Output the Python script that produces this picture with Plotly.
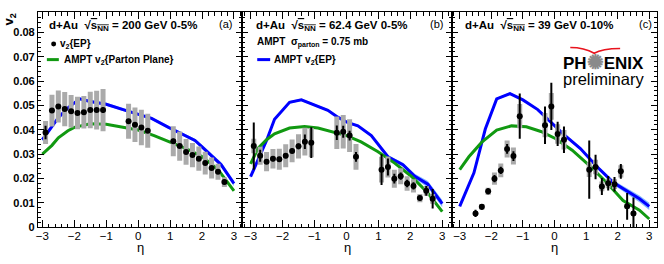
import plotly.graph_objects as go

W, H = 664, 264

# ---------------- data: panel (a) 200 GeV ----------------
eta_a = [-2.9, -2.7, -2.5, -2.3, -2.1, -1.9, -1.7, -1.5, -1.3, -1.1,
         -0.3, -0.1, 0.1, 0.3,
         1.1, 1.3, 1.5, 1.7, 1.9, 2.1, 2.3, 2.5, 2.7]
v2_a = [0.0389, 0.0479, 0.0496, 0.0485, 0.0476, 0.0469, 0.0472, 0.0481, 0.0481, 0.0481,
        0.0435, 0.0421, 0.0409, 0.0396,
        0.0353, 0.0333, 0.0309, 0.0296, 0.0281, 0.0263, 0.0243, 0.0227, 0.0185]
stat_a = [0.0028, 0.0008, 0.0008, 0.0008, 0.0008, 0.0008, 0.0008, 0.0008, 0.0008, 0.0012,
          0.0008, 0.0008, 0.0008, 0.0008,
          0.0010, 0.0008, 0.0008, 0.0008, 0.0008, 0.0008, 0.0008, 0.0008, 0.0010]
sys_a = [0.0047, 0.0065, 0.0066, 0.0070, 0.0067, 0.0067, 0.0067, 0.0075, 0.0080, 0.0087,
         0.0072, 0.0071, 0.0073, 0.0070,
         0.0062, 0.0060, 0.0053, 0.0050, 0.0050, 0.0047, 0.0043, 0.0033, 0.0020]
ep_eta_a = [-3.0, -2.71, -2.5, -2.2, -1.83, -1.5, -1.0, -0.3, 0.42, 0.95, 1.36, 1.78, 2.0, 2.4, 2.6, 3.0]
ep_v2_a = [0.0359, 0.0412, 0.0450, 0.0490, 0.0527, 0.0516, 0.0505, 0.0476, 0.0447, 0.0410,
           0.0385, 0.0356, 0.0330, 0.0283, 0.0256, 0.0179]
ep_err_a = [0.0006, 0.0006, 0.0006, 0.0006, 0.0006, 0.0006, 0.0006, 0.0006, 0.0006, 0.0006,
            0.0006, 0.0007, 0.0008, 0.0009, 0.0010, 0.0011]
pp_eta_a = [-3.0, -2.7, -2.5, -2.2, -2.0, -1.5, -1.0, -0.5, 0.0, 0.5, 1.0, 1.5, 2.0, 2.5, 3.0]
pp_v2_a = [0.0300, 0.0336, 0.0367, 0.0396, 0.0410, 0.0425, 0.0423, 0.0412, 0.0399, 0.0376,
           0.0350, 0.0323, 0.0290, 0.0236, 0.0149]

# ---------------- data: panel (b) 62.4 GeV ----------------
eta_b = [-2.9, -2.7, -2.5, -2.3, -2.1, -1.9, -1.7, -1.5, -1.3, -1.1,
         -0.3, -0.1, 0.1, 0.3,
         1.1, 1.3, 1.5, 1.7, 1.9, 2.1, 2.3, 2.5, 2.7]
v2_b = [0.0333, 0.0293, 0.0269, 0.0281, 0.0279, 0.0293, 0.0313, 0.0332, 0.0351, 0.0347,
        0.0388, 0.0392, 0.0376, 0.0289,
        0.0236, 0.0247, 0.0199, 0.0209, 0.0179, 0.0169, 0.0119, 0.0149, 0.0116]
stat_b = [0.0097, 0.0025, 0.0010, 0.0010, 0.0010, 0.0010, 0.0010, 0.0012, 0.0030, 0.0063,
          0.0030, 0.0025, 0.0020, 0.0020,
          0.0063, 0.0035, 0.0020, 0.0015, 0.0015, 0.0015, 0.0010, 0.0020, 0.0040]
sys_b = [0.0030, 0.0037, 0.0040, 0.0040, 0.0043, 0.0047, 0.0047, 0.0050, 0.0057, 0.0060,
         0.0067, 0.0069, 0.0067, 0.0053,
         0.0053, 0.0043, 0.0037, 0.0033, 0.0030, 0.0027, 0.0017, 0.0020, 0.0020]
ep_eta_b = [-3.0, -2.77, -2.5, -2.25, -1.78, -1.41, -1.0, -0.58, -0.27, 0.05, 0.36, 0.78,
            1.3, 1.77, 2.14, 2.55, 3.0]
ep_v2_b = [0.0207, 0.0276, 0.0356, 0.0443, 0.0513, 0.0523, 0.0503, 0.0480, 0.0452, 0.0429,
           0.0416, 0.0376, 0.0289, 0.0256, 0.0209, 0.0176, 0.0096]
ep_err_b = [0.0005, 0.0005, 0.0005, 0.0005, 0.0005, 0.0005, 0.0005, 0.0005, 0.0005, 0.0005,
            0.0005, 0.0006, 0.0007, 0.0008, 0.0010, 0.0013, 0.0015]
pp_eta_b = [-3.0, -2.77, -2.5, -2.25, -1.78, -1.31, -0.89, -0.47, 0.0, 0.46, 0.99, 1.51,
            2.03, 2.55, 3.0]
pp_v2_b = [0.0260, 0.0323, 0.0359, 0.0383, 0.0407, 0.0413, 0.0407, 0.0392, 0.0376, 0.0350,
           0.0310, 0.0263, 0.0209, 0.0140, 0.0063]

# ---------------- data: panel (c) 39 GeV ----------------
eta_c = [-2.5, -2.3, -2.1, -1.9, -1.7, -1.5, -1.3, -1.1,
         -0.3, -0.1, 0.1, 0.3,
         1.1, 1.3, 1.5, 1.7, 1.9, 2.1, 2.3, 2.5]
v2_c = [0.0056, 0.0083, 0.0147, 0.0199, 0.0233, 0.0321, 0.0292, 0.0456,
        0.0419, 0.0496, 0.0383, 0.0359,
        0.0236, 0.0247, 0.0167, 0.0180, 0.0176, 0.0229, 0.0085, 0.0056]
stat_c = [0.0015, 0.0012, 0.0012, 0.0015, 0.0015, 0.0020, 0.0020, 0.0093,
          0.0077, 0.0097, 0.0050, 0.0055,
          0.0120, 0.0050, 0.0035, 0.0030, 0.0030, 0.0030, 0.0055, 0.0065]
sys_c = [0.0010, 0.0012, 0.0015, 0.0025, 0.0028, 0.0035, 0.0035, 0.0050,
         0.0050, 0.0055, 0.0040, 0.0040,
         0.0030, 0.0030, 0.0020, 0.0020, 0.0020, 0.0025, 0.0010, 0.0010]
ep_eta_c = [-3.0, -2.55, -2.19, -1.83, -1.41, -1.0, -0.53, -0.11, 0.3, 0.82, 1.34, 1.86,
            2.27, 2.69, 3.0]
ep_v2_c = [0.0085, 0.0223, 0.0403, 0.0527, 0.0549, 0.0523, 0.0483, 0.0429, 0.0380, 0.0323,
           0.0249, 0.0183, 0.0149, 0.0116, 0.0085]
ep_err_c = [0.0005, 0.0005, 0.0005, 0.0005, 0.0005, 0.0005, 0.0005, 0.0005, 0.0005, 0.0006,
            0.0007, 0.0009, 0.0012, 0.0014, 0.0015]
pp_eta_c = [-3.0, -2.71, -2.3, -1.83, -1.36, -0.89, -0.43, 0.04, 0.56, 1.08, 1.65, 2.17,
            2.69, 3.0]
pp_v2_c = [0.0236, 0.0289, 0.0349, 0.0399, 0.0416, 0.0412, 0.0393, 0.0363, 0.0316, 0.0256,
           0.0183, 0.0109, 0.0069, 0.0033]

panel_titles = ["200 GeV 0-5%", "62.4 GeV 0-5%", "39 GeV 0-10%"]
panel_tags = ["(a)", "(b)", "(c)"]
x_ticks = [-3, -2, -1, 0, 1, 2, 3]

# ---------------- styling ----------------
BLUE = "#0000ff"
GREEN = "#119911"
GRAY = "#aaaaaa"
BAND = "rgba(90,160,255,0.75)"
FONT = "Liberation Sans, Arial, sans-serif"

left_px = [36, 241, 451.5]
right_px = [241, 451.5, 656.5]
x_ranges = [[-3.14, 3.26], [-3.26, 3.31], [-3.24, 3.23]]
y_range = [0, 0.0884]
y_top_px, y_bot_px = 12.4, 232.3


def px(x):
    return x / W


def py(y):
    return 1 - y / H


fig = go.Figure()

panels = [
    (eta_a, v2_a, stat_a, sys_a, ep_eta_a, ep_v2_a, ep_err_a, pp_eta_a, pp_v2_a),
    (eta_b, v2_b, stat_b, sys_b, ep_eta_b, ep_v2_b, ep_err_b, pp_eta_b, pp_v2_b),
    (eta_c, v2_c, stat_c, sys_c, ep_eta_c, ep_v2_c, ep_err_c, pp_eta_c, pp_v2_c),
]

for i, (eta, v2, st, sy, ee, ev, eerr, pe, pv) in enumerate(panels):
    xa = "x" if i == 0 else f"x{i+1}"
    ya = "y" if i == 0 else f"y{i+1}"
    up = [v + e for v, e in zip(ev, eerr)]
    lo = [v - e for v, e in zip(ev, eerr)]
    fig.add_trace(go.Scatter(x=ee + ee[::-1], y=up + lo[::-1], fill="toself",
                             fillcolor=BAND, line=dict(width=0), mode="lines",
                             hoverinfo="skip", showlegend=False, xaxis=xa, yaxis=ya))
    fig.add_trace(go.Scatter(x=ee, y=ev, mode="lines", line=dict(color=BLUE, width=3),
                             showlegend=False, xaxis=xa, yaxis=ya))
    fig.add_trace(go.Scatter(x=pe, y=pv, mode="lines", line=dict(color=GREEN, width=3),
                             showlegend=False, xaxis=xa, yaxis=ya))
    fig.add_trace(go.Scatter(x=eta, y=v2, mode="markers", marker=dict(size=1, opacity=0),
                             error_y=dict(type="data", array=sy, color=GRAY, thickness=5,
                                          width=0),
                             showlegend=False, xaxis=xa, yaxis=ya))
    fig.add_trace(go.Scatter(x=eta, y=v2, mode="markers",
                             marker=dict(color="black", size=6),
                             error_y=dict(type="data", array=st, color="black",
                                          thickness=2, width=0),
                             showlegend=False, xaxis=xa, yaxis=ya))

    xkey = "xaxis" if i == 0 else f"xaxis{i+1}"
    ykey = "yaxis" if i == 0 else f"yaxis{i+1}"
    fig.layout[xkey] = dict(
        domain=[px(left_px[i]), px(right_px[i])], range=x_ranges[i], anchor=ya,
        showline=True, linecolor="black", linewidth=1, mirror="ticks",
        ticks="inside", ticklen=7, tickcolor="black", tickvals=x_ticks,
        ticktext=[("\u2212" + str(-t)) if t < 0 else str(t) for t in x_ticks],
        minor=dict(ticks="inside", dtick=0.2, tick0=0, ticklen=3.5, tickcolor="black"),
        tickfont=dict(family=FONT, size=11.5, color="black"),
        ticklabelstandoff=-2,
        showgrid=False, zeroline=False, fixedrange=True,
    )
    fig.layout[ykey] = dict(
        domain=[py(y_bot_px), py(y_top_px)], range=y_range, anchor=xa,
        showline=True, linecolor="black", linewidth=1, mirror="ticks",
        ticks="inside", ticklen=6, tickcolor="black", dtick=0.01, tick0=0,
        minor=dict(ticks="inside", dtick=0.002, tick0=0, ticklen=3, tickcolor="black"),
        showticklabels=(i == 0),
        tickfont=dict(family=FONT, size=11, color="black", weight="bold"),
        showgrid=False, zeroline=False, fixedrange=True,
    )

annotations = []
header_x = [45.5, 253, 462.5]
tag_x = [224, 436, 645]
for i in range(3):
    annotations.append(dict(
        x=px(header_x[i]), y=py(26.5), xref="paper", yref="paper",
        xanchor="left", yanchor="middle", showarrow=False,
        text=("<b>d+Au  \u221a<span style='text-decoration:overline'>s<sub>NN</sub></span>"
              " = " + panel_titles[i] + "</b>"),
        font=dict(family=FONT, size=11.5, color="black")))
    annotations.append(dict(
        x=px(tag_x[i]), y=py(25), xref="paper", yref="paper",
        xanchor="center", yanchor="middle", showarrow=False,
        text=panel_tags[i], font=dict(family=FONT, size=11, color="black")))
    cx = (left_px[i] + right_px[i]) / 2
    annotations.append(dict(
        x=px(cx), y=py(253), xref="paper", yref="paper",
        xanchor="center", yanchor="middle", showarrow=False,
        text="\u03b7", font=dict(family=FONT, size=13, color="black")))

annotations.append(dict(x=px(8), y=py(20), xref="paper", yref="paper",
                        xanchor="center", yanchor="middle", showarrow=False, textangle=-90,
                        text="<b>v<sub>2</sub></b>", font=dict(family=FONT, size=13, color="black")))
annotations.append(dict(x=px(56), y=py(45), xref="paper", yref="paper",
                        xanchor="left", yanchor="middle", showarrow=False,
                        text="<b>v<sub>2</sub>{EP}</b>", font=dict(family=FONT, size=10, color="black")))
annotations.append(dict(x=px(60), y=py(61), xref="paper", yref="paper",
                        xanchor="left", yanchor="middle", showarrow=False,
                        text="<b>AMPT v<sub>2</sub>{Parton Plane}</b>",
                        font=dict(family=FONT, size=10, color="black")))
annotations.append(dict(x=px(254), y=py(43), xref="paper", yref="paper",
                        xanchor="left", yanchor="middle", showarrow=False,
                        text="<b>AMPT  \u03c3<sub>parton</sub> = 0.75 mb</b>",
                        font=dict(family=FONT, size=10, color="black")))
annotations.append(dict(x=px(270.5), y=py(61), xref="paper", yref="paper",
                        xanchor="left", yanchor="middle", showarrow=False,
                        text="<b>AMPT v<sub>2</sub>{EP}</b>",
                        font=dict(family=FONT, size=10, color="black")))
annotations.append(dict(x=px(603.5), y=py(63), xref="paper", yref="paper",
                        xanchor="center", yanchor="middle", showarrow=False,
                        text=("<b>PH<span style='color:#8a8a8a;font-size:20px'>\u273a</span>"
                              "ENIX</b>"),
                        font=dict(family=FONT, size=17, color="black")))
annotations.append(dict(x=px(603), y=py(81), xref="paper", yref="paper",
                        xanchor="center", yanchor="middle", showarrow=False,
                        text="preliminary", font=dict(family=FONT, size=16.5, color="black")))

shapes = []
shapes.append(dict(type="circle", xref="paper", yref="paper",
                   x0=px(49.3), x1=px(54.3), y0=py(47.5), y1=py(42.5),
                   fillcolor="black", line=dict(width=0)))
shapes.append(dict(type="line", xref="paper", yref="paper",
                   x0=px(45), x1=px(57), y0=py(61), y1=py(61),
                   line=dict(color=GREEN, width=3)))
shapes.append(dict(type="line", xref="paper", yref="paper",
                   x0=px(256), x1=px(269), y0=py(61), y1=py(61),
                   line=dict(color=BLUE, width=3)))


def P(x, y):
    return f"{px(x):.5f},{py(y):.5f}"


swoosh = ("M " + P(570, 48.5) + " Q " + P(584, 48.5) + " " + P(594, 54.5)
          + " Q " + P(602, 49.5) + " " + P(620, 49.5))
shapes.append(dict(type="path", xref="paper", yref="paper", path=swoosh,
                   line=dict(color="#e8141e", width=1.5)))

fig.update_layout(width=W, height=H, margin=dict(l=0, r=0, t=0, b=0),
                  paper_bgcolor="white", plot_bgcolor="white",
                  showlegend=False, annotations=annotations, shapes=shapes)

fig.write_html("out.html", config={"displayModeBar": False, "staticPlot": True},
               post_script="document.body.style.margin='0px';document.body.style.overflow='hidden';")
